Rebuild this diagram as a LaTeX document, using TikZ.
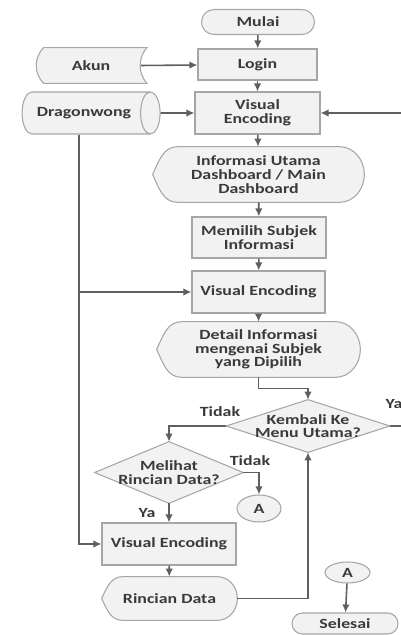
\documentclass[tikz,border=0pt]{standalone}
\usepackage{fontspec}
\setmainfont{Carlito}[FakeStretch=1.27]
\usetikzlibrary{arrows.meta,shapes.geometric,backgrounds,calc}
\definecolor{FCLine}{HTML}{A6A6A6}
\definecolor{FCFill}{HTML}{F2F2F2}
\definecolor{FCText}{HTML}{3A3A3A}
\definecolor{FCArrow}{HTML}{5F5F5F}
% outlines drawn round plain nodes
\newcommand{\FCstored}[1]{\draw[shp] ([xshift=1.7mm]#1.north west) -- (#1.north east) to[bend right=40] (#1.south east) -- ([xshift=1.7mm]#1.south west) to[bend left=45] cycle;}
\newcommand{\FCdisplay}[3]{\draw[shp] (#1.west) to[out=65,in=180] ([xshift=#2]#1.north west) -- ([xshift=-#3]#1.north east) to[out=0,in=90] (#1.east) to[out=-90,in=0] ([xshift=-#3]#1.south east) -- ([xshift=#2]#1.south west) to[out=180,in=-65] cycle;}
\newcommand{\FCdiamond}[1]{\draw[shp] (#1.north) -- (#1.east) -- (#1.south) -- (#1.west) -- cycle;}

\begin{document}
\begin{tikzpicture}[x=0.2mm,y=-0.2mm,>={Latex[length=1.6mm,width=1.5mm]},
 every node/.style={font=\fontsize{8}{7.8}\selectfont\bfseries,text=FCText,align=center},
 box/.style={draw=FCLine,fill=FCFill,line width=.6pt,inner sep=1pt},
 term/.style={box},
 conn/.style={box,ellipse,inner sep=0pt},
 plain/.style={inner sep=0pt},
 lbl/.style={inner sep=0pt},
 shp/.style={draw=FCLine,fill=FCFill,line width=.6pt},
 flow/.style={->,draw=FCArrow,line width=.9pt}]
\useasboundingbox (0,0) rectangle (400,635);

\node[term,minimum width=22.6mm,minimum height=5mm,rounded corners=2.5mm] (mulai) at (258,22) {Mulai};
\node[box,minimum width=23.8mm,minimum height=6.2mm] (login) at (257.5,64.5) {Login};
\node[plain,minimum width=22.2mm,minimum height=7mm] (akun) at (91,65.5) {Akun};
\node[box,minimum width=25mm,minimum height=8.4mm] (ve1) at (257.5,113) {Visual\\Encoding};
\node[box,cylinder,aspect=1.3,minimum width=8.4mm,minimum height=27.6mm] (drag) at (84,113) {Dragonwong};
\node[plain,minimum width=42.2mm,minimum height=11mm] (info) at (258.5,174.5) {Informasi Utama\\Dashboard / Main\\Dashboard};
\node[box,minimum width=26.8mm,minimum height=8.2mm] (pilih) at (259,237.5) {Memilih Subjek\\Informasi};
\node[box,minimum width=26.6mm,minimum height=8.4mm] (ve2) at (258.5,292) {Visual Encoding};
\node[plain,minimum width=40.6mm,minimum height=11mm] (detail) at (258.5,349.5) {Detail Informasi\\mengenai Subjek\\yang Dipilih};
\node[plain,minimum width=32.6mm,minimum height=10.4mm] (kmb) at (308,426) {Kembali Ke\\Menu Utama?};
\node[plain,minimum width=29.6mm,minimum height=12.2mm] (lihat) at (169,472.5) {Melihat\\Rincian Data?};
\node[conn,minimum width=8.8mm,minimum height=5.4mm] (a1) at (259,508.5) {A};
\node[box,minimum width=26.8mm,minimum height=8.4mm] (ve3) at (169,544) {Visual Encoding};
\node[plain,minimum width=27mm,minimum height=8.6mm] (rinci) at (169.5,598.5) {Rincian Data};
\node[conn,minimum width=9mm,minimum height=4.2mm] (a2) at (347.5,572.5) {A};
\node[term,minimum width=21.2mm,minimum height=4.2mm,rounded corners=2.1mm] (selesai) at (345,623.5) {Selesai};

\node[lbl] (tdk1) at (220,412) {Tidak};
\node[lbl] (ya1) at (394,404) {Ya};
\node[lbl] (tdk2) at (250,461) {Tidak};
\node[lbl] (ya2) at (147,513) {Ya};

\begin{pgfonlayer}{background}
\FCstored{akun}
\FCdisplay{info}{5mm}{5mm}
\FCdisplay{detail}{5mm}{5mm}
\FCdisplay{rinci}{4.2mm}{4mm}
\FCdiamond{kmb}
\FCdiamond{lihat}
\end{pgfonlayer}

\coordinate (trunk) at ([xshift=-1mm]drag.south);
\draw[flow] (mulai) -- (login);
\draw[flow] ([xshift=-1.2mm]akun.east) -- (login);
\draw[flow] (login) -- (ve1);
\draw[flow] (drag) -- (ve1);
\draw[flow] (ve1) -- (info);
\draw[flow] (info) -- (pilih);
\draw[flow] (pilih) -- (ve2);
\draw[flow] (ve2) -- (detail);
\draw[flow] (detail.south) |- ($(detail.south)!.5!(kmb.north)$) -| (kmb.north);
\draw[flow] (kmb.west) -| (lihat.north);
\draw[flow] (kmb.east) -- ++(3mm,0) |- (ve1.east);
\draw[flow] (lihat.east) -| (a1.north);
\draw[flow] (lihat) -- (ve3);
\draw[flow] (ve3) -- (rinci);
\draw[flow] (rinci.east) -| (kmb.south);
\draw[flow] (trunk) |- (ve3.west);
\draw[flow] (trunk |- ve2.west) -- (ve2.west);
\draw[flow] (a2) -- (selesai);
\end{tikzpicture}
\end{document}
